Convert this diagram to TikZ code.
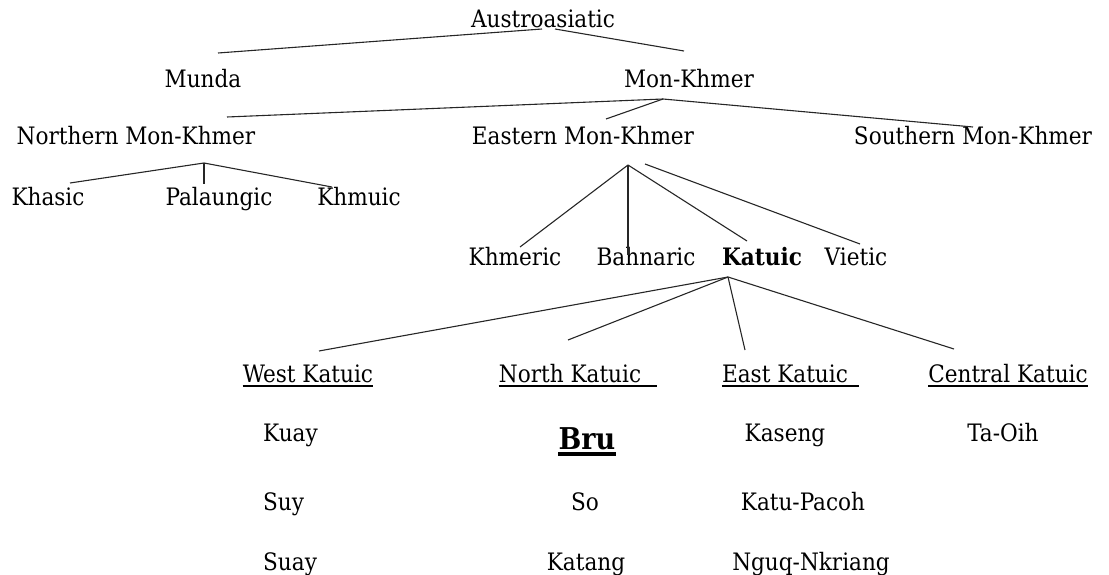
\documentclass[tikz,border=0pt]{standalone}
\usepackage{fontspec}
\setmainfont{DejaVu Serif Condensed}
\begin{document}
\begin{tikzpicture}[x=1pt,y=-1pt,
  lang/.style={inner sep=0pt, anchor=base, font=\fontsize{24}{29}\selectfont},
  lbold/.style={lang, font=\fontsize{24}{29}\selectfont\bfseries},
  edge/.style={line width=1.1pt, draw=black!85},
  ul/.style={line width=2.6pt},
  ulthick/.style={line width=3.6pt}]
\useasboundingbox (0,0) rectangle (1109,575);

% ---- tree nodes ----
\node[lang] (aa)   at (543,28)  {Austroasiatic};
\node[lang] (mu)   at (203,88)  {Munda};
\node[lang] (mk)   at (689,88)  {Mon-Khmer};
\node[lang] (nmk)  at (136,145) {Northern Mon-Khmer};
\node[lang] (emk)  at (583,145) {Eastern Mon-Khmer};
\node[lang] (smk)  at (973,145) {Southern Mon-Khmer};
\node[lang] (kha)  at (48,205)  {Khasic};
\node[lang] (pal)  at (219,205) {Palaungic};
\node[lang] (khm)  at (359,205) {Khmuic};
\node[lang] (khr)  at (515,265) {Khmeric};
\node[lang] (bah)  at (646,265) {Bahnaric};
\node[lbold] (kat) at (762,265) {Katuic};
\node[lang] (vie)  at (856,265) {Vietic};
\node[lang] (wk)   at (308,382) {West Katuic};
\node[lang] (nk)   at (570,382) {North Katuic};
\node[lang] (ek)   at (785,382) {East Katuic};
\node[lang] (ck)   at (1008,382) {Central Katuic};

% ---- language lists ----
\node[lang, anchor=base west] (kuay) at (263,441) {Kuay};
\node[lang, anchor=base west] (suy)  at (263,510) {Suy};
\node[lang, anchor=base west] (suay) at (263,570) {Suay};
\node[inner sep=0pt, anchor=base, font=\fontsize{30}{36}\selectfont\bfseries] (bru) at (587,449) {Bru};
\node[lang] (so)   at (585,510) {So};
\node[lang] (katg) at (586,570) {Katang};
\node[lang] (kas)  at (785,441) {Kaseng};
\node[lang] (kp)   at (803,510) {Katu-Pacoh};
\node[lang] (ngk)  at (811,570) {Nguq-Nkriang};
\node[lang] (toi)  at (1003,441) {Ta-Oih};

% ---- branch points ----
\coordinate (aa-l) at (542,29);
\coordinate (aa-r) at (555,29);
\coordinate (mu-t) at (218,53);
\coordinate (mk-t) at (684,51);
\coordinate (mk-f) at (663,99);
\coordinate (nmk-t) at (227,117);
\coordinate (emk-t) at (606,119);
\coordinate (smk-t) at (973,127);
\coordinate (nmk-f) at (204,163);
\coordinate (kha-t) at (70,183);
\coordinate (pal-t) at (204,184);
\coordinate (khm-t) at (332,187);
\coordinate (emk-f) at (628,165);
\coordinate (emk-g) at (645,164);
\coordinate (khr-t) at (520,247);
\coordinate (bah-t) at (628,255);
\coordinate (kat-t) at (747,241);
\coordinate (vie-t) at (860,244);
\coordinate (kat-f) at (728,277);
\coordinate (wk-t) at (319,351);
\coordinate (nk-t) at (568,340);
\coordinate (ek-t) at (745,350);
\coordinate (ck-t) at (954,349);

% ---- connectors ----
\draw[edge] (aa-l) -- (mu-t);
\draw[edge] (aa-r) -- (mk-t);
\draw[edge] (mk-f) -- (nmk-t);
\draw[edge] (mk-f) -- (emk-t);
\draw[edge] (mk-f) -- (smk-t);
\draw[edge] (nmk-f) -- (kha-t);
\draw[edge] (nmk-f) -- (pal-t);
\draw[edge] (nmk-f) -- (khm-t);
\draw[edge] (emk-f) -- (khr-t);
\draw[edge] (emk-f) -- (bah-t);
\draw[edge] (emk-f) -- (kat-t);
\draw[edge] (emk-g) -- (vie-t);
\draw[edge] (kat-f) -- (wk-t);
\draw[edge] (kat-f) -- (nk-t);
\draw[edge] (kat-f) -- (ek-t);
\draw[edge] (kat-f) -- (ck-t);

% ---- underlines ----
\draw[ul] ([yshift=-4pt]wk.base west) -- ([yshift=-4pt]wk.base east);
\draw[ul] ([yshift=-4pt]nk.base west) -- ([xshift=16pt,yshift=-4pt]nk.base east);
\draw[ul] ([yshift=-4pt]ek.base west) -- ([xshift=11pt,yshift=-4pt]ek.base east);
\draw[ul] ([yshift=-4pt]ck.base west) -- ([yshift=-4pt]ck.base east);
\draw[ulthick] ([yshift=-5pt]bru.base west) -- ([yshift=-5pt]bru.base east);
\end{tikzpicture}
\end{document}
